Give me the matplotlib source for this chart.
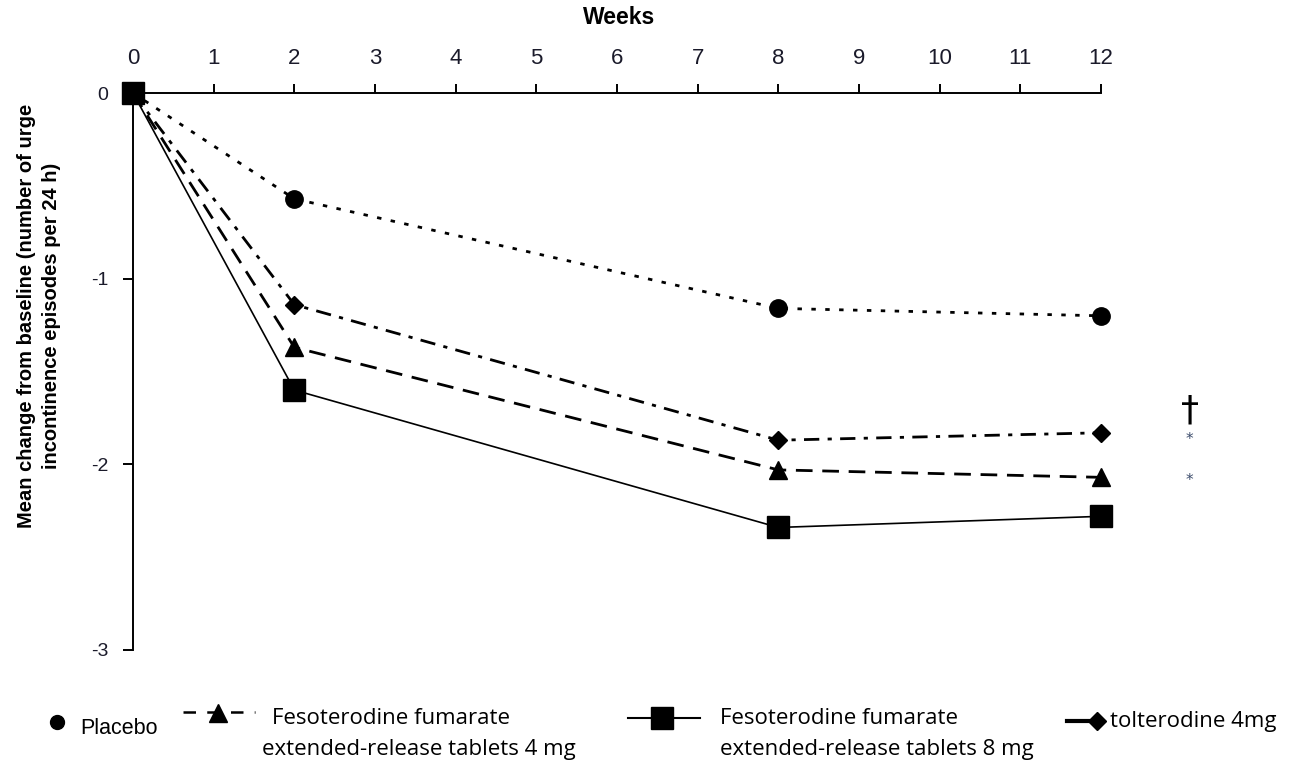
import matplotlib
matplotlib.use("Agg")
import matplotlib.pyplot as plt
from matplotlib.lines import Line2D

weeks = [0, 2, 8, 12]
placebo = [0, -0.57, -1.16, -1.20]
feso4 = [0, -1.37, -2.03, -2.07]
feso8 = [0, -1.60, -2.34, -2.28]
tolt = [0, -1.14, -1.87, -1.83]
xticks = list(range(0, 13))
yticks = [0, -1, -2, -3]

W, H = 1298, 763
fig = plt.figure(figsize=(W / 100, H / 100), dpi=100)


def fx(px):
    return px / W


def fy(py):
    return 1 - py / H


ax = fig.add_axes([fx(133), fy(650), fx(1101) - fx(133), fy(93) - fy(650)])
ax.set_xlim(0, 12)
ax.set_ylim(-3, 0)

ax.plot(weeks, placebo, color="black", lw=2, linestyle=(0, (1.6, 3.4)),
        marker="o", ms=12.5, clip_on=False, zorder=3)
ax.plot(weeks, tolt, color="black", lw=2, linestyle=(0, (5.5, 3, 1.5, 3)),
        marker="D", ms=9, clip_on=False, zorder=3)
ax.plot(weeks, feso4, color="black", lw=2, linestyle=(0, (6, 3.5)),
        marker="^", ms=13, clip_on=False, zorder=3)
ax.plot(weeks, feso8, color="black", lw=1.2, linestyle="-",
        marker="s", ms=16.5, clip_on=False, zorder=4)

ax.spines["right"].set_visible(False)
ax.spines["bottom"].set_visible(False)
ax.spines["top"].set_linewidth(1.4)
ax.spines["left"].set_linewidth(1.4)
ax.xaxis.tick_top()
ax.set_xticks(xticks)
ax.set_xticklabels([str(t) for t in xticks], fontsize=16, family="Liberation Sans",
                   color="#1a1a2a")
ax.set_yticks(yticks)
ax.set_yticklabels([str(t) for t in yticks], fontsize=14, family="Liberation Sans",
                   color="#1a1a2a")
ax.tick_params(axis="x", direction="out", length=6.5, width=1.4, pad=10.5)
ax.tick_params(axis="y", direction="out", length=7, width=1.4, pad=11)

fig.text(fx(619), fy(18), "Weeks", fontsize=16.5, fontweight="bold",
         family="Liberation Sans", ha="center", va="center")
fig.text(fx(39), fy(316),
         "Mean change from baseline (number of urge\nincontinence episodes per 24 h)",
         fontsize=14.5, fontweight="bold", family="Liberation Sans",
         rotation=90, ha="center", va="center", multialignment="center",
         linespacing=1.45)

# significance marks
fig.text(fx(1190), fy(410), "†", fontsize=26, ha="center", va="center",
         family="DejaVu Sans", color="black")
fig.text(fx(1189), fy(440), "*", fontsize=11, ha="center", va="center", color="#3a4a6a")
fig.text(fx(1189), fy(480), "*", fontsize=11, ha="center", va="center", color="#3a4a6a")

# legend (manual)
fig.add_artist(Line2D([fx(57)], [fy(722)], marker="o", ms=10, color="black", lw=0))
fig.text(fx(80), fy(728), "Placebo", fontsize=15.5, family="Liberation Sans", va="center")

fig.add_artist(Line2D([fx(183), fx(255)], [fy(712), fy(712)], color="black", lw=1.8,
                      linestyle=(0, (5, 4.5))))
fig.add_artist(Line2D([fx(218)], [fy(713)], marker="^", ms=13, color="black", lw=0))
fig.text(fx(272), fy(718), "Fesoterodine fumarate", fontsize=16, family="Open Sans",
         va="center")
fig.text(fx(262), fy(749), "extended-release tablets 4 mg", fontsize=16,
         family="Open Sans", va="center")

fig.add_artist(Line2D([fx(628), fx(700)], [fy(718), fy(718)], color="black", lw=1.5))
fig.add_artist(Line2D([fx(662)], [fy(718)], marker="s", ms=16, color="black", lw=0))
fig.text(fx(720), fy(718), "Fesoterodine fumarate", fontsize=16, family="Open Sans",
         va="center")
fig.text(fx(720), fy(749), "extended-release tablets 8 mg", fontsize=16,
         family="Open Sans", va="center")

fig.add_artist(Line2D([fx(1067), fx(1088)], [fy(721), fy(721)], color="black", lw=3))
fig.add_artist(Line2D([fx(1097)], [fy(721)], marker="D", ms=9, color="black", lw=0))
fig.text(fx(1110), fy(722), "tolterodine 4mg", fontsize=16, family="Open Sans",
         va="center")

fig.savefig("out.png", dpi=100)
